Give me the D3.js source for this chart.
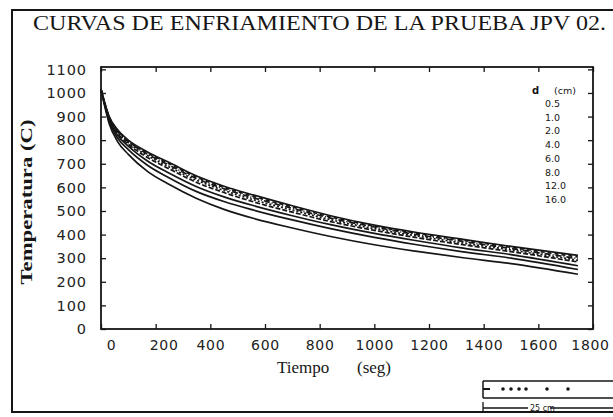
<!DOCTYPE html>
<html>
<head>
<meta charset="utf-8">
<script src="https://cdn.jsdelivr.net/npm/d3@7"></script>
<style>
  html, body { margin: 0; padding: 0; background: #fff; }
  svg { display: block; }
</style>
</head>
<body>
<svg id="chart" width="613" height="417"></svg>
<script>
// Cooling curves, JPV 02 test: temperature vs. time at several depths d (cm)
const times = [0, 30, 60, 100, 170, 250, 350, 450, 560, 700, 840, 1000, 1150, 1325, 1500, 1745];

const depths = ["0.5", "1.0", "2.0", "4.0", "6.0", "8.0", "12.0", "16.0"];

const temp_d05 = [1015, 870, 795, 740, 668, 612, 553, 507, 468, 428, 392, 357, 330, 302, 277, 232];
const temp_d10 = [1015, 880, 810, 760, 694, 640, 582, 540, 503, 462, 425, 388, 358, 327, 300, 252];
const temp_d20 = [1015, 887, 822, 775, 712, 660, 603, 560, 522, 480, 442, 405, 375, 343, 315, 268];
const temp_d40 = [1015, 892, 830, 783, 727, 678, 621, 578, 538, 495, 455, 418, 388, 357, 328, 284];
const temp_d60 = [1015, 895, 835, 789, 735, 686, 630, 587, 547, 504, 463, 425, 395, 364, 335, 291];
const temp_d80 = [1015, 897, 839, 794, 741, 694, 637, 594, 555, 511, 470, 432, 401, 371, 341, 298];
const temp_d120 = [1015, 899, 842, 797, 746, 700, 643, 600, 561, 517, 475, 436, 406, 376, 346, 305];
const temp_d160 = [1015, 900, 845, 800, 750, 705, 648, 605, 567, 522, 480, 440, 410, 380, 350, 312];

const xTicks = [0, 200, 400, 600, 800, 1000, 1200, 1400, 1600, 1800];
const xTickLabels = ["0", "200", "400", "600", "800", "1000", "1200", "1400", "1600", "1800"];
const yTicks = [0, 100, 200, 300, 400, 500, 600, 700, 800, 900, 1000, 1100];

const series = [temp_d05, temp_d10, temp_d20, temp_d40, temp_d60, temp_d80, temp_d120, temp_d160];
const dashes = [null, null, null, "5,2", "2,2", "6,2,1,2", "4,3", null];

const svg = d3.select("#chart");
const ink = "#161616";

// outer frame of the figure
svg.append("rect")
  .attr("x", 12).attr("y", 10).attr("width", 640).attr("height", 402)
  .attr("fill", "none").attr("stroke", ink).attr("stroke-width", 2);

// title
svg.append("text")
  .attr("x", 33).attr("y", 30)
  .attr("textLength", 573).attr("lengthAdjust", "spacingAndGlyphs")
  .attr("font-family", "Liberation Serif, serif").attr("font-size", 20)
  .attr("fill", ink)
  .text("CURVAS DE ENFRIAMIENTO DE LA PRUEBA JPV 02.");

// plot area
const L = 101, R = 593, T = 67, B = 329;
const x = d3.scaleLinear().domain([0, 1800]).range([L, R]);
const y = d3.scaleLinear().domain([0, 1110]).range([B, T]);

svg.append("rect")
  .attr("x", L).attr("y", T).attr("width", R - L).attr("height", B - T)
  .attr("fill", "none").attr("stroke", ink).attr("stroke-width", 1.8);

const tickFont = "DejaVu Sans, sans-serif";

// bottom axis: ticks inside, labels below
const xLabelShift = [10, 8, 0, 0, 0, 0, 0, 0, 0, -3];
const xAxis = d3.axisBottom(x).tickValues(xTicks).tickSizeInner(-5).tickSizeOuter(0)
  .tickPadding(11).tickFormat((d, i) => xTickLabels[i]);
const gx = svg.append("g").attr("transform", `translate(0,${B})`).call(xAxis);
gx.select(".domain").remove();
gx.selectAll("line").attr("stroke", ink).attr("stroke-width", 1.3);
gx.selectAll("text").attr("font-family", tickFont).attr("font-size", 14)
  .attr("letter-spacing", 0.7).attr("fill", "#222")
  .attr("dx", (d, i) => xLabelShift[i]);

// top axis: ticks only
const gxt = svg.append("g").attr("transform", `translate(0,${T})`)
  .call(d3.axisTop(x).tickValues(xTicks).tickSizeInner(-5).tickSizeOuter(0).tickFormat(""));
gxt.select(".domain").remove();
gxt.selectAll("line").attr("stroke", ink).attr("stroke-width", 1.3);

// left axis
const yAxis = d3.axisLeft(y).tickValues(yTicks).tickSizeInner(-5).tickSizeOuter(0)
  .tickPadding(14).tickFormat(d3.format("d"));
const gy = svg.append("g").attr("transform", `translate(${L},0)`).call(yAxis);
gy.select(".domain").remove();
gy.selectAll("line").attr("stroke", ink).attr("stroke-width", 1.3);
gy.selectAll("text").attr("font-family", tickFont).attr("font-size", 14.5)
  .attr("letter-spacing", 0.9).attr("fill", "#222");

// right axis: ticks only
const gyr = svg.append("g").attr("transform", `translate(${R},0)`)
  .call(d3.axisRight(y).tickValues(yTicks).tickSizeInner(-5).tickSizeOuter(0).tickFormat(""));
gyr.select(".domain").remove();
gyr.selectAll("line").attr("stroke", ink).attr("stroke-width", 1.3);

// axis titles
svg.append("text")
  .attr("transform", "translate(32,202) rotate(-90)")
  .attr("text-anchor", "middle")
  .attr("textLength", 165).attr("lengthAdjust", "spacingAndGlyphs")
  .attr("font-family", "Liberation Serif, serif").attr("font-size", 16)
  .attr("font-weight", "bold").attr("fill", ink)
  .text("Temperatura  (C)");

svg.append("text")
  .attr("x", 277).attr("y", 373)
  .attr("font-family", "Liberation Serif, serif").attr("font-size", 17)
  .attr("fill", ink).text("Tiempo");
svg.append("text")
  .attr("x", 357).attr("y", 373)
  .attr("font-family", "Liberation Serif, serif").attr("font-size", 17)
  .attr("fill", ink).text("(seg)");

// cooling curves
const line = d3.line()
  .x((d, i) => x(times[i]))
  .y(d => y(d))
  .curve(d3.curveMonotoneX);

svg.append("g").selectAll("path")
  .data(series)
  .join("path")
  .attr("d", d => line(d))
  .attr("fill", "none")
  .attr("stroke", ink)
  .attr("stroke-width", 1.7)
  .attr("stroke-dasharray", (d, i) => dashes[i]);

// depth list
const legFont = "DejaVu Sans, sans-serif";
svg.append("text").attr("x", 532).attr("y", 94)
  .attr("font-family", legFont).attr("font-size", 10).attr("font-weight", "bold")
  .attr("fill", ink).text("d");
svg.append("text").attr("x", 554).attr("y", 94)
  .attr("font-family", legFont).attr("font-size", 9.5)
  .attr("fill", ink).text("(cm)");
svg.append("g").selectAll("text")
  .data(depths)
  .join("text")
  .attr("x", 545)
  .attr("y", (d, i) => 107 + i * 13.7)
  .attr("font-family", legFont).attr("font-size", 9.5)
  .attr("fill", ink)
  .text(d => d);

// specimen sketch with thermocouple positions and scale bar
const sk = svg.append("g");
sk.append("path").attr("d", "M483,381 H613 M483,398 H613 M483,381 V398")
  .attr("fill", "none").attr("stroke", ink).attr("stroke-width", 1.5);
sk.append("line").attr("x1", 483).attr("x2", 490).attr("y1", 389).attr("y2", 389)
  .attr("stroke", ink).attr("stroke-width", 2);
const probeX = [503, 511, 519, 526, 547, 568];
sk.selectAll("circle").data(probeX).join("circle")
  .attr("cx", d => d).attr("cy", 389).attr("r", 1.8).attr("fill", ink);
sk.append("path").attr("d", "M483,402 V413 M483,408 H528 M550,408 H613")
  .attr("fill", "none").attr("stroke", ink).attr("stroke-width", 1.3);
sk.append("text").attr("x", 530).attr("y", 411)
  .attr("font-family", legFont).attr("font-size", 8)
  .attr("fill", ink).text("25 cm");
</script>
</body>
</html>
